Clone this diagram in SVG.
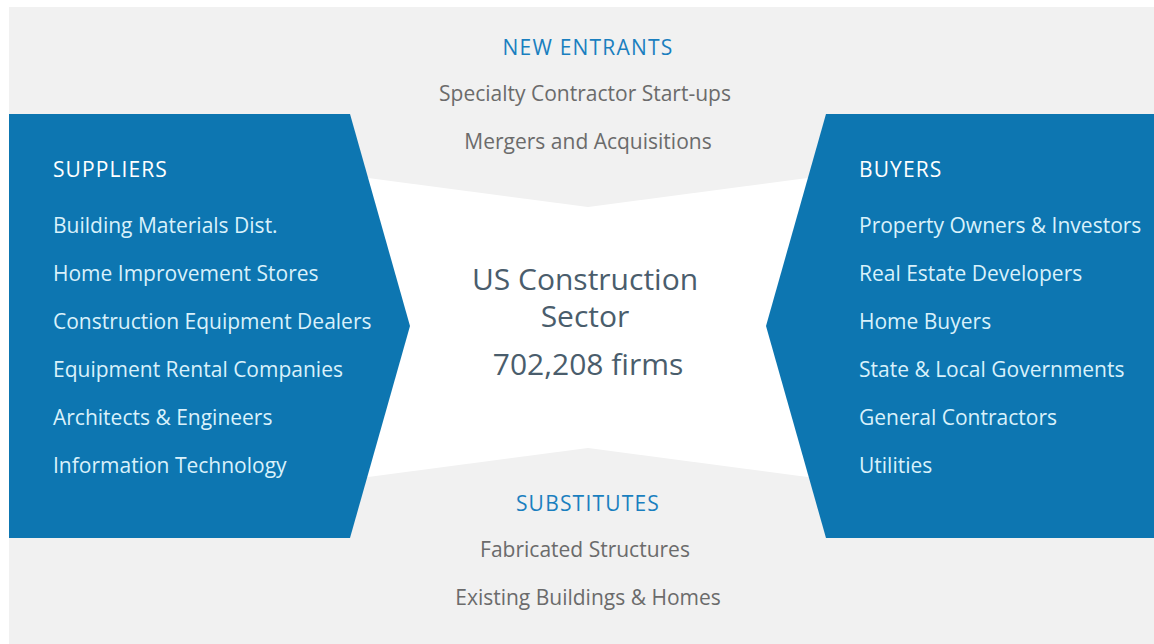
<svg xmlns="http://www.w3.org/2000/svg" width="1154" height="644" viewBox="0 0 1154 644">
  <style>
    .head-gray { font-family: "Open Sans", "Liberation Sans", sans-serif; font-size: 21px; letter-spacing: 1.2px; fill: #1a7fbf; text-anchor: middle; }
    .item-gray { font-family: "Open Sans", "Liberation Sans", sans-serif; font-size: 21px; fill: #6b6b6b; text-anchor: middle; }
    .head-blue { font-family: "Open Sans", "Liberation Sans", sans-serif; font-size: 21px; letter-spacing: 1.1px; fill: #ffffff; }
    .item-blue { font-family: "Open Sans", "Liberation Sans", sans-serif; font-size: 21px; fill: #d9f1fb; }
    .center { font-family: "Open Sans", "Liberation Sans", sans-serif; font-size: 30px; fill: #4a5d6c; text-anchor: middle; }
    .panel { fill: #0d76b1; }
  </style>

  <!-- page backdrop -->
  <rect x="0" y="0" width="1154" height="644" fill="#ffffff"/>
  <rect x="9" y="7" width="1145" height="637" fill="#f1f1f1"/>

  <!-- central bow-tie field -->
  <g id="sector">
    <polygon points="300,169 588,207 876,169 876,486 588,448 300,486" fill="#ffffff"/>
    <text class="center" x="585" y="290">US Construction</text>
    <text class="center" x="585" y="327">Sector</text>
    <text class="center" x="588" y="375">702,208 firms</text>
  </g>

  <!-- new entrants (top) -->
  <g id="new-entrants">
    <text class="head-gray" x="588" y="55">NEW ENTRANTS</text>
    <text class="item-gray" x="585" y="101">Specialty Contractor Start-ups</text>
    <text class="item-gray" x="588" y="149">Mergers and Acquisitions</text>
  </g>

  <!-- substitutes (bottom) -->
  <g id="substitutes">
    <text class="head-gray" x="588" y="511">SUBSTITUTES</text>
    <text class="item-gray" x="585" y="557">Fabricated Structures</text>
    <text class="item-gray" x="588" y="605">Existing Buildings &amp; Homes</text>
  </g>

  <!-- suppliers (left arrow panel) -->
  <g id="suppliers">
    <polygon class="panel" points="9,114 350,114 410,326 350,538 9,538"/>
    <text class="head-blue" x="53" y="177">SUPPLIERS</text>
    <text class="item-blue" x="53" y="233">Building Materials Dist.</text>
    <text class="item-blue" x="53" y="281">Home Improvement Stores</text>
    <text class="item-blue" x="53" y="329">Construction Equipment Dealers</text>
    <text class="item-blue" x="53" y="377">Equipment Rental Companies</text>
    <text class="item-blue" x="53" y="425">Architects &amp; Engineers</text>
    <text class="item-blue" x="53" y="473">Information Technology</text>
  </g>

  <!-- buyers (right arrow panel) -->
  <g id="buyers">
    <polygon class="panel" points="826,114 1154,114 1154,538 826,538 766,326"/>
    <text class="head-blue" x="859" y="177">BUYERS</text>
    <text class="item-blue" x="859" y="233">Property Owners &amp; Investors</text>
    <text class="item-blue" x="859" y="281">Real Estate Developers</text>
    <text class="item-blue" x="859" y="329">Home Buyers</text>
    <text class="item-blue" x="859" y="377">State &amp; Local Governments</text>
    <text class="item-blue" x="859" y="425">General Contractors</text>
    <text class="item-blue" x="859" y="473">Utilities</text>
  </g>

  <g id="connectors"/>
</svg>
